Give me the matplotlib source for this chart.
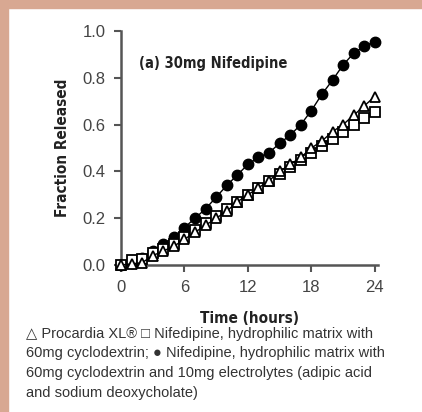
import matplotlib
matplotlib.use('Agg')
import matplotlib.pyplot as plt
from matplotlib.patches import Rectangle

# data, time in hours
hours = list(range(0, 25))
electrolytes = [0.0, 0.01, 0.03, 0.06, 0.09, 0.12, 0.16, 0.20, 0.24, 0.29, 0.34, 0.385,
                0.43, 0.46, 0.48, 0.52, 0.555, 0.60, 0.66, 0.73, 0.79, 0.855, 0.905,
                0.935, 0.955]
cyclodextrin = [0.0, 0.02, 0.025, 0.05, 0.07, 0.09, 0.12, 0.15, 0.18, 0.21, 0.24, 0.27,
                0.30, 0.33, 0.36, 0.39, 0.42, 0.45, 0.48, 0.51, 0.54, 0.57, 0.60,
                0.63, 0.655]
procardia = [0.0, 0.005, 0.01, 0.04, 0.06, 0.08, 0.11, 0.14, 0.17, 0.20, 0.23, 0.27,
             0.30, 0.33, 0.36, 0.40, 0.43, 0.46, 0.50, 0.53, 0.57, 0.60, 0.64,
             0.68, 0.72]
xticks = [0, 6, 12, 18, 24]
yticks = [0.0, 0.2, 0.4, 0.6, 0.8, 1.0]

caption = ("\u25B3 Procardia XL\u00AE \u25A1 Nifedipine, hydrophilic matrix with\n"
           "60mg cyclodextrin; \u25CF Nifedipine, hydrophilic matrix with\n"
           "60mg cyclodextrin and 10mg electrolytes (adipic acid\n"
           "and sodium deoxycholate)")

W, H = 422, 412
fig = plt.figure(figsize=(W / 100, H / 100), dpi=100)
fig.patch.set_facecolor('white')

# salmon frame bits (header band + left edge)
band = '#d8a892'
fig.add_artist(Rectangle((0, 1 - 8 / H), 1, 8 / H, transform=fig.transFigure,
                         color=band, zorder=0))
fig.add_artist(Rectangle((0, 0), 8 / W, 1, transform=fig.transFigure,
                         color=band, zorder=0))

ax = fig.add_axes([121 / W, 1 - 265 / H, (378 - 121) / W, (265 - 31) / H])
ax.set_facecolor('none')

narrow = ['DejaVu Sans']
plain = ['Liberation Sans', 'DejaVu Sans']

ax.plot(hours, electrolytes, color='black', lw=1, marker='o', ms=7.5,
        mfc='black', mec='black', clip_on=False, zorder=3)
ax.plot(hours, cyclodextrin, color='black', lw=1, marker='s', ms=7,
        mfc='white', mec='black', mew=1.3, clip_on=False, zorder=4)
ax.plot(hours, procardia, color='black', lw=1, marker='^', ms=7.5,
        mfc='white', mec='black', mew=1.3, clip_on=False, zorder=5)

ax.set_xlim(0, 24.3)
ax.set_ylim(0, 1.0)
ax.set_xticks(xticks)
ax.set_yticks(yticks)
ax.set_xticklabels([str(t) for t in xticks], family=plain, fontsize=12, color='#444')
ax.set_yticklabels([f'{v:.1f}' for v in yticks], family=plain, fontsize=12, color='#444')
ax.tick_params(axis='both', direction='out', length=5, width=1.5, color='#555', pad=6)

for s in ['top', 'right']:
    ax.spines[s].set_visible(False)
for s in ['left', 'bottom']:
    ax.spines[s].set_color('#555')
    ax.spines[s].set_linewidth(1.8)

ax.set_xlabel('Time (hours)', family=narrow, fontstretch='condensed', fontweight='bold',
              fontsize=11, color='#222', labelpad=11)
ax.set_ylabel('Fraction Released', family=narrow, fontstretch='condensed',
              fontweight='bold', fontsize=11, color='#222', labelpad=9)

ax.text(0.07, 0.86, '(a) 30mg Nifedipine', transform=ax.transAxes, family=narrow,
        fontstretch='condensed', fontweight='bold', fontsize=10.5, color='#222',
        va='center', ha='left')

fig.text(26 / W, 1 - 327 / H, caption, family=plain, fontsize=10.5, color='#333',
         va='top', ha='left', linespacing=1.5)

fig.savefig('out.png', dpi=100)
